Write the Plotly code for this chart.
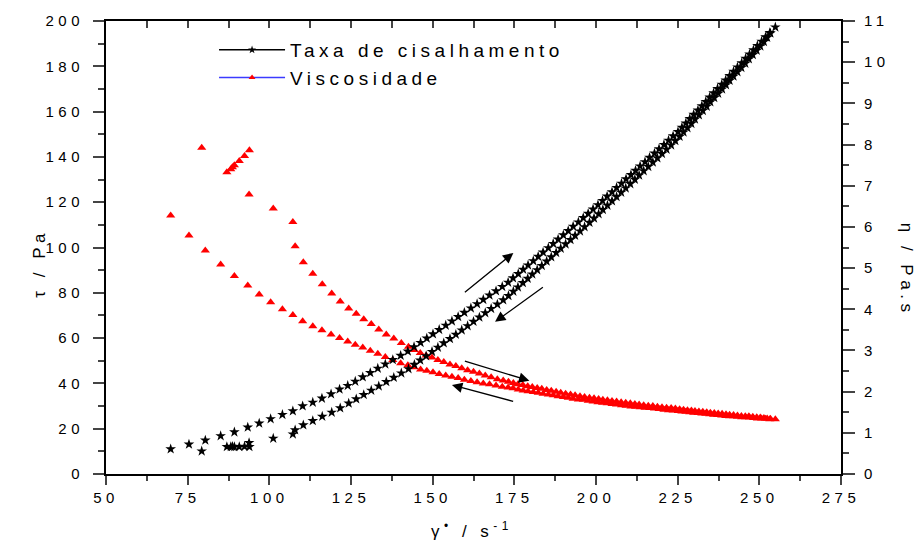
import plotly.graph_objects as go

# ---------------- data ----------------
# up-ramp branch: shear rate (s^-1), shear stress (Pa), viscosity (Pa.s)
up_rate = [69.8, 75.4, 79.3, 80.4, 85.1, 89.3, 93.4, 96.9, 100.4, 104.0, 107.2, 110.2, 113.3, 116.1, 118.9, 121.5, 124.0,
           126.3, 128.6, 130.9, 133.2, 135.5, 137.8, 140.2,
           142.4, 144.3, 146.3, 148.2, 150.1, 152.0, 154.0, 155.9, 157.8, 159.7, 161.7, 163.6, 165.5, 167.4, 169.4, 171.3,
           173.1, 174.6, 176.2, 177.7, 179.2, 180.8, 182.3, 183.8, 185.4, 186.9, 188.4, 190.0, 191.5, 193.0, 194.6, 196.1, 197.6,
           199.1, 200.6, 202.0, 203.4, 204.9, 206.3, 207.8, 209.2, 210.7, 212.1, 213.5, 215.0, 216.4, 217.9, 219.3, 220.8, 222.2, 223.6,
           225.1, 226.3, 227.5, 228.7, 229.9, 231.2, 232.4, 233.6, 234.8, 236.0, 237.2, 238.5, 239.7, 240.9, 242.1, 243.3, 244.6, 245.8, 247.0, 248.2, 249.4,
           250.7, 251.9, 253.2, 254.9]
up_tau = [11.0, 13.1, 10.1, 14.9, 16.8, 18.5, 20.6, 22.4, 24.3, 26.2, 27.8, 30.0, 31.6, 33.4, 35.3, 37.4, 39.0,
          40.9, 42.8, 44.7, 46.6, 48.5, 50.4, 52.3,
          54.2, 56.1, 58.0, 59.9, 61.8, 63.7, 65.6, 67.5, 69.4, 71.3, 73.2, 75.1, 77.0, 78.9, 80.8, 82.7,
          84.6, 86.5, 88.4, 90.3, 92.2, 94.1, 96.0, 97.9, 99.8, 101.7, 103.6, 105.5, 107.4, 109.3, 111.2, 113.1, 115.0,
          116.9, 118.8, 120.7, 122.6, 124.5, 126.4, 128.3, 130.2, 132.1, 134.0, 135.9, 137.8, 139.7, 141.6, 143.5, 145.4, 147.3, 149.2,
          151.1, 153.0, 154.9, 156.8, 158.7, 160.6, 162.5, 164.4, 166.3, 168.2, 170.1, 172.0, 173.9, 175.8, 177.7, 179.6, 181.5, 183.4, 185.3, 187.2, 189.1,
          191.0, 192.9, 194.8, 197.3]
up_eta = [6.28, 5.79, 7.92, 5.43, 5.09, 4.81, 4.58, 4.36, 4.17, 4.00, 3.86, 3.71, 3.59, 3.49, 3.39, 3.30, 3.22,
          3.14, 3.07, 2.99, 2.92, 2.84, 2.77, 2.69,
          2.64, 2.59, 2.54, 2.51, 2.47, 2.43, 2.39, 2.36, 2.33, 2.29, 2.26, 2.23, 2.20, 2.18, 2.15, 2.12,
          2.10, 2.08, 2.05, 2.03, 2.01, 1.99, 1.97, 1.95, 1.93, 1.91, 1.89, 1.87, 1.85, 1.83, 1.81, 1.80, 1.78,
          1.76, 1.74, 1.73, 1.72, 1.70, 1.69, 1.67, 1.66, 1.64, 1.63, 1.62, 1.61, 1.60, 1.59, 1.58, 1.56, 1.55, 1.54,
          1.53, 1.52, 1.51, 1.50, 1.49, 1.48, 1.47, 1.46, 1.45, 1.44, 1.43, 1.42, 1.41, 1.40, 1.40, 1.39, 1.38, 1.38, 1.37, 1.36, 1.35,
          1.35, 1.34, 1.33, 1.33]

# down-ramp branch
dn_rate = [87.0, 88.2, 88.7, 89.3, 90.8, 92.4, 93.9, 93.8, 101.2, 107.2, 107.9, 110.4, 113.3, 116.2, 119.1, 121.7, 124.3,
           126.6, 128.9, 131.2, 133.5, 135.8, 138.1, 140.4,
           142.6, 144.4, 146.2, 148.0, 149.8, 151.6, 153.4, 155.3, 157.1, 158.9, 160.7, 162.5, 164.3, 166.1, 167.9, 169.8, 171.6,
           173.2, 174.7, 176.1, 177.6, 179.1, 180.5, 182.0, 183.4, 184.9, 186.3, 187.8, 189.2, 190.7, 192.2, 193.6, 195.1, 196.5, 198.0,
           199.4, 200.8, 202.1, 203.5, 204.9, 206.3, 207.7, 209.1, 210.5, 211.9, 213.2, 214.6, 216.0, 217.4, 218.8, 220.2, 221.6, 223.0, 224.3,
           225.6, 226.8, 228.0, 229.2, 230.3, 231.5, 232.7, 233.9, 235.0, 236.2, 237.4, 238.6, 239.8, 240.9, 242.1, 243.3, 244.5, 245.7, 246.8, 248.0, 249.2,
           250.3, 251.4, 252.4, 253.4]
dn_tau = [12.0, 12.0, 12.1, 12.0, 12.0, 12.1, 12.0, 13.8, 15.7, 17.6, 19.4, 21.6, 23.5, 25.4, 27.2, 29.1, 31.2,
          33.1, 35.0, 36.9, 38.8, 40.7, 42.6, 44.5,
          46.4, 48.3, 50.2, 52.1, 54.0, 55.9, 57.8, 59.7, 61.6, 63.5, 65.4, 67.3, 69.2, 71.1, 73.0, 74.9, 76.8,
          78.7, 80.6, 82.5, 84.4, 86.3, 88.2, 90.1, 92.0, 93.9, 95.8, 97.7, 99.6, 101.5, 103.4, 105.3, 107.2, 109.1, 111.0,
          112.9, 114.8, 116.7, 118.6, 120.5, 122.4, 124.3, 126.2, 128.1, 130.0, 131.9, 133.8, 135.7, 137.6, 139.5, 141.4, 143.3, 145.2, 147.1,
          149.0, 150.9, 152.8, 154.7, 156.6, 158.5, 160.4, 162.3, 164.2, 166.1, 168.0, 169.9, 171.8, 173.7, 175.6, 177.5, 179.4, 181.3, 183.2, 185.1, 187.0,
          188.9, 190.8, 192.7, 194.6]
dn_eta = [7.33, 7.40, 7.45, 7.50, 7.60, 7.72, 7.86, 6.79, 6.45, 6.12, 5.53, 5.14, 4.86, 4.61, 4.38, 4.19, 4.02,
          3.89, 3.76, 3.64, 3.51, 3.39, 3.29, 3.18,
          3.09, 3.01, 2.94, 2.88, 2.83, 2.77, 2.72, 2.66, 2.62, 2.57, 2.52, 2.48, 2.44, 2.39, 2.35, 2.30, 2.27,
          2.24, 2.21, 2.18, 2.16, 2.13, 2.11, 2.09, 2.07, 2.04, 2.02, 2.00, 1.97, 1.95, 1.93, 1.91, 1.89, 1.87, 1.85,
          1.84, 1.82, 1.80, 1.79, 1.77, 1.76, 1.74, 1.73, 1.72, 1.70, 1.69, 1.67, 1.66, 1.65, 1.63, 1.62, 1.61, 1.60, 1.59,
          1.57, 1.56, 1.55, 1.54, 1.53, 1.52, 1.51, 1.50, 1.49, 1.48, 1.47, 1.46, 1.45, 1.44, 1.43, 1.42, 1.41, 1.40, 1.40, 1.39, 1.38,
          1.37, 1.36, 1.35, 1.34]

assert len(up_rate) == len(up_tau) == len(up_eta)
assert len(dn_rate) == len(dn_tau) == len(dn_eta)

legend_names = ["Taxa de cisalhamento", "Viscosidade"]
x_title = "γ<sup>•</sup> / s<sup>-1</sup>"
y_left_title = "τ / Pa"
y_right_title = "η / Pa.s"

FONT = "Liberation Sans, Arial, sans-serif"

fig = go.Figure()

# viscosity (base axis, right side)
for xs, ys in [(up_rate, up_eta), (dn_rate, dn_eta)]:
    fig.add_trace(go.Scatter(x=xs, y=ys, mode="markers", xaxis="x", yaxis="y",
                             marker=dict(symbol="triangle-up", size=8, color="#ff0000"),
                             showlegend=False, hoverinfo="skip"))
# shear stress (overlay axis, left side) drawn on top
for xs, ys in [(up_rate, up_tau), (dn_rate, dn_tau)]:
    fig.add_trace(go.Scatter(x=xs, y=ys, mode="markers", xaxis="x", yaxis="y2",
                             marker=dict(symbol="star", size=8, color="black", line=dict(width=0)),
                             showlegend=False, hoverinfo="skip"))

# legend entries
fig.add_trace(go.Scatter(x=[None], y=[None], mode="lines+markers", name=legend_names[0],
                         xaxis="x", yaxis="y2",
                         line=dict(color="black", width=1.5),
                         marker=dict(symbol="star", size=6, color="black")))
fig.add_trace(go.Scatter(x=[None], y=[None], mode="lines+markers", name=legend_names[1],
                         xaxis="x", yaxis="y",
                         line=dict(color="#3b3bff", width=1.5),
                         marker=dict(symbol="triangle-up", size=6, color="#ff0000")))
# top mirror axis carrier
fig.add_trace(go.Scatter(x=[None], y=[None], xaxis="x2", yaxis="y", showlegend=False, hoverinfo="skip"))

tickfont = dict(family=FONT, size=15, color="black")

fig.update_layout(
    width=920, height=545,
    margin=dict(l=106, r=79, t=21, b=71, pad=0),
    paper_bgcolor="white", plot_bgcolor="white",
    font=dict(family=FONT, color="black"),
    xaxis=dict(range=[50, 275], tick0=50, dtick=25, ticks="outside", ticklen=9, tickwidth=2,
               showline=True, linewidth=2, linecolor="black", showgrid=False, zeroline=False,
               tickfont=tickfont,
               minor=dict(dtick=12.5, tick0=50, ticks="outside", ticklen=5, tickwidth=2, showgrid=False)),
    xaxis2=dict(range=[50, 275], overlaying="x", side="top", anchor="y", tick0=50, dtick=12.5,
                ticks="inside", ticklen=7, tickwidth=2, showline=True, linewidth=2, linecolor="black",
                showticklabels=False, showgrid=False, zeroline=False),
    yaxis=dict(range=[0, 11], side="right", tick0=0, dtick=1, ticks="outside", ticklen=12, tickwidth=2,
               showline=True, linewidth=2, linecolor="black", showgrid=False, zeroline=False,
               tickfont=tickfont, ticklabelstandoff=6,
               minor=dict(dtick=0.5, tick0=0, ticks="outside", ticklen=6, tickwidth=2, showgrid=False)),
    yaxis2=dict(range=[0, 200], overlaying="y", side="left", anchor="x", tick0=0, dtick=20,
                ticks="outside", ticklen=11, tickwidth=2,
                showline=True, linewidth=2, linecolor="black", showgrid=False, zeroline=False,
                tickfont=tickfont, ticklabelstandoff=6,
                minor=dict(dtick=10, tick0=0, ticks="outside", ticklen=6, tickwidth=2, showgrid=False)),
    legend=dict(x=0.147, y=0.978, xanchor="left", yanchor="top", bgcolor="rgba(0,0,0,0)",
                font=dict(family=FONT, size=19, color="black"), itemwidth=66, tracegroupgap=0),
)

titlefont = dict(family=FONT, size=17, color="black")
fig.add_annotation(text=y_left_title, xref="paper", yref="paper", x=-0.09, y=0.465,
                   xanchor="center", yanchor="middle",
                   textangle=-90, showarrow=False, font=titlefont)
fig.add_annotation(text=y_right_title, xref="paper", yref="paper", x=1.089, y=0.45,
                   xanchor="center", yanchor="middle",
                   textangle=90, showarrow=False, font=titlefont)
fig.add_annotation(text=x_title, xref="paper", yref="paper", x=0.498, y=-0.1235,
                   xanchor="center", yanchor="middle",
                   showarrow=False, font=titlefont)

# direction arrows (head at x,y; tail at ax,ay)
arrows = [(174.7, 97.6, 159.4, 79.7), (169.1, 67.2, 184.2, 82.9),
          (179.6, 41.2, 159.4, 50.0), (155.9, 39.3, 175.1, 31.9)]
for hx, hy, tx, ty in arrows:
    fig.add_annotation(x=hx, y=hy, ax=tx, ay=ty, xref="x", yref="y2", axref="x", ayref="y2",
                       showarrow=True, arrowhead=2, arrowsize=1.6, arrowwidth=1.3, arrowcolor="black",
                       text="")

post = ("var s=document.createElement('style');"
        "s.textContent='svg text{letter-spacing:4.5px;}';"
        "document.head.appendChild(s);"
        "document.querySelectorAll('.legend [clip-path], .legend').forEach(function(e){e.removeAttribute('clip-path');});")
fig.write_html("out.html", post_script=post)
